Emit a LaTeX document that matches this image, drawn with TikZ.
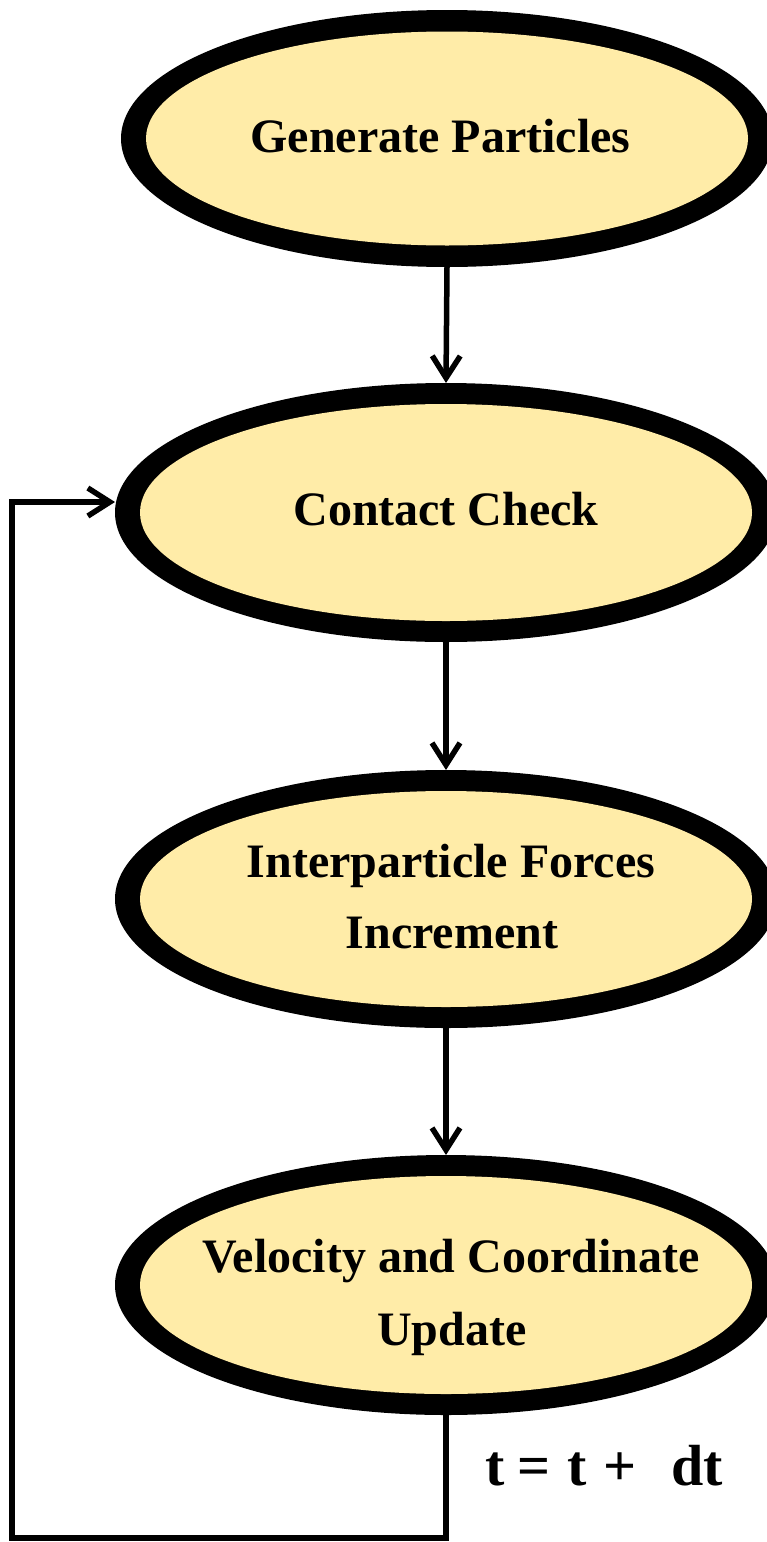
\documentclass[tikz,border=0pt]{standalone}
\usepackage{fontspec}
\setmainfont{Liberation Serif}
\usetikzlibrary{arrows.meta,shapes.geometric}
\definecolor{ellfill}{RGB}{255,236,168}
\begin{document}
\begin{tikzpicture}[x=1pt,y=-1pt,
  outerell/.style={ellipse, fill=black, inner sep=0pt, outer sep=0pt},
  lbl/.style={font=\fontsize{48}{58}\selectfont\bfseries, inner sep=0pt, anchor=base},
  flow/.style={line width=5.5pt, line join=miter, -{Straight Barb[length=22pt,width=28pt]}}]
\useasboundingbox (0,0) rectangle (767,1542);
% ellipses (outer black ring + inner fill)
\node[outerell, minimum width=652pt, minimum height=257pt] (e1) at (447,138.5) {};
\fill[ellfill] (e1.center) ellipse[x radius=301pt, y radius=107pt];
\node[outerell, minimum width=662pt, minimum height=259pt] (e2) at (446,512.5) {};
\fill[ellfill] (e2.center) ellipse[x radius=306pt, y radius=108.5pt];
\node[outerell, minimum width=662pt, minimum height=258pt] (e3) at (446,899) {};
\fill[ellfill] (e3.center) ellipse[x radius=306pt, y radius=108pt];
\node[outerell, minimum width=662pt, minimum height=260pt] (e4) at (446,1285) {};
\fill[ellfill] (e4.center) ellipse[x radius=306pt, y radius=109pt];
% labels
\node[lbl] (t1) at (440.5,152) {Generate Particles};
\node[lbl] (t2) at (446,525) {Contact Check};
\node[lbl] (t3a) at (451,877) {Interparticle Forces};
\node[lbl] (t3b) at (452,948) {Increment};
\node[lbl] (t4a) at (451,1272) {Velocity and Coordinate};
\node[lbl] (t4b) at (452,1345) {Update};
\node[font=\fontsize{58}{66}\selectfont\bfseries, inner sep=0pt, anchor=base west] (dt) at (485,1485)
  {t\hspace{12.7pt}=\hspace{17pt}t\hspace{16.7pt}+\hspace{35pt}dt};
% connectors
\draw[flow] (e1.south) -- (e2.north);
\draw[flow] (e2.south) -- (e3.north);
\draw[flow, shorten <=-20pt] (e3.south) -- (e4.north);
\coordinate (lb) at (12,1538);
\coordinate (lt) at (12,502);
\draw[flow] (e4.south) |- (lb) -- (lt) -- (lt -| e2.west);
\end{tikzpicture}
\end{document}
